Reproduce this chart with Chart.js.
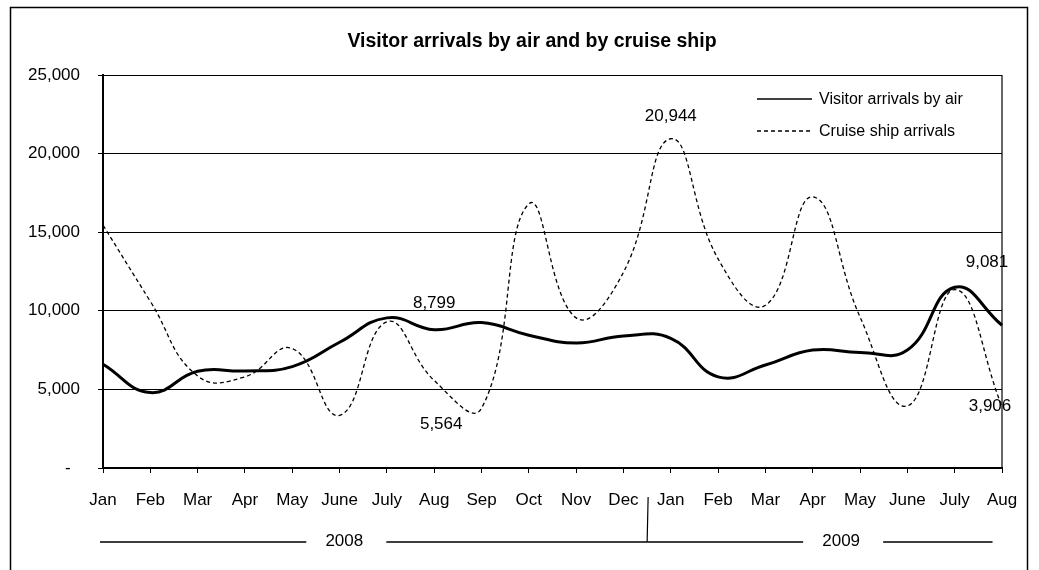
<!DOCTYPE html>
<html>
<head>
<meta charset="utf-8">
<script src="https://cdn.jsdelivr.net/npm/chart.js@4.4.0/dist/chart.umd.min.js"></script>
<style>
    html, body { margin: 0; padding: 0; background: #fff; }
</style>
</head>
<body>
<canvas id="lineChart" width="1039" height="570"></canvas>
<script>
Chart.defaults.font.family = "'Liberation Sans', Arial, sans-serif";
Chart.defaults.color = "#000";

const titleText = "Visitor arrivals by air and by cruise ship";
const months = ["Jan", "Feb", "Mar", "Apr", "May", "June", "July", "Aug", "Sep", "Oct", "Nov", "Dec",
                "Jan", "Feb", "Mar", "Apr", "May", "June", "July", "Aug"];
const years = ["2008", "2009"];
const yearFirstIndex = [0, 12];
const airArrivals = [6600, 4800, 6150, 6170, 6450, 8000, 9550, 8799, 9250, 8450, 7950, 8400,
                     8250, 5800, 6550, 7500, 7350, 7500, 11500, 9081];
const cruiseArrivals = [15450, 10600, 5850, 5800, 7600, 3350, 9300, 5564, 3800, 16800, 9550, 12450,
                        20944, 13300, 10350, 17250, 9600, 3950, 11350, 3906];
const yTicks = [0, 5000, 10000, 15000, 20000, 25000];

// which points carry a value label, and where the label sits relative to the point
const labelled = [
    {series: 1, index: 12, dx: 0, dy: -22},
    {series: 0, index: 7, dx: 0, dy: -26},
    {series: 1, index: 7, dx: 7, dy: 44},
    {series: 0, index: 19, dx: -15, dy: -63},
    {series: 1, index: 19, dx: -12, dy: 0}
];

const fmt = v => v.toLocaleString("en-US");

const decorations = {
    id: "decorations",
    beforeDraw(chart){
        const ctx = chart.ctx;
        ctx.save();
        ctx.fillStyle = "#fff";
        ctx.fillRect(0, 0, chart.width, chart.height);
        ctx.restore();
    },
    afterDraw(chart){
        const ctx = chart.ctx;
        const area = chart.chartArea;
        const x = chart.scales.x;
        ctx.save();
        ctx.strokeStyle = "#000";
        ctx.fillStyle = "#000";

        // outer frame (runs off the bottom)
        ctx.lineWidth = 1.5;
        ctx.strokeRect(10.5, 7.5, chart.width - 22, chart.height + 20);

        // right edge of plot
        ctx.lineWidth = 1.2;
        ctx.beginPath();
        ctx.moveTo(area.right, area.top);
        ctx.lineTo(area.right, area.bottom);
        ctx.stroke();

        // title
        ctx.font = "bold 19.5px 'Liberation Sans', Arial";
        ctx.textAlign = "center";
        ctx.textBaseline = "middle";
        ctx.fillText(titleText, 532, 42);

        // legend inside plot, top right
        ctx.font = "16px 'Liberation Sans', Arial";
        ctx.textAlign = "left";
        chart.data.datasets.forEach((ds, i) => {
            const ly = area.top + 24 + i * 32;
            ctx.lineWidth = 1.4;
            ctx.setLineDash(ds.borderDash || []);
            ctx.beginPath();
            ctx.moveTo(area.right - 245, ly);
            ctx.lineTo(area.right - 190, ly);
            ctx.stroke();
            ctx.setLineDash([]);
            ctx.fillText(ds.label, area.right - 183, ly + 1);
        });

        // value labels
        ctx.font = "17px 'Liberation Sans', Arial";
        ctx.textAlign = "center";
        labelled.forEach(l => {
            const pt = chart.getDatasetMeta(l.series).data[l.index];
            const v = chart.data.datasets[l.series].data[l.index];
            ctx.fillText(fmt(v), pt.x + l.dx, pt.y + l.dy);
        });

        // second level of category axis: years
        const lvlY = area.bottom + 74;
        const yearLabelAt = [5.1, 15.6];
        ctx.lineWidth = 1.5;
        years.forEach((yr, g) => {
            const first = yearFirstIndex[g];
            const last = g < years.length - 1 ? yearFirstIndex[g + 1] - 1 : months.length - 1;
            const x0 = g === 0 ? area.left - 3 : x.getPixelForValue(first - 0.5);
            const x1 = g === years.length - 1 ? x.getPixelForValue(last - 0.2) : x.getPixelForValue(last + 0.5);
            const cx = x.getPixelForValue(yearLabelAt[g]);
            ctx.beginPath();
            ctx.moveTo(x0, lvlY);
            ctx.lineTo(cx - 38, lvlY);
            ctx.moveTo(cx + 42, lvlY);
            ctx.lineTo(x1, lvlY);
            ctx.stroke();
            ctx.fillText(yr, cx, lvlY - 1);
            if(g > 0){
                ctx.lineWidth = 1.2;
                ctx.beginPath();
                ctx.moveTo(x0 + 1, area.bottom + 29);
                ctx.lineTo(x0, lvlY);
                ctx.stroke();
                ctx.lineWidth = 1.5;
            }
        });
        ctx.restore();
    }
};

new Chart(document.getElementById("lineChart"), {
    type: "line",
    data: {
        labels: months,
        datasets: [
            {
                label: "Visitor arrivals by air",
                data: airArrivals,
                borderColor: "#000",
                borderWidth: 3,
                pointRadius: 0,
                tension: 0.45,
                fill: false
            },
            {
                label: "Cruise ship arrivals",
                data: cruiseArrivals,
                borderColor: "#000",
                borderWidth: 1.3,
                borderDash: [4, 3],
                pointRadius: 0,
                tension: 0.45,
                fill: false
            }
        ]
    },
    options: {
        responsive: false,
        animation: false,
        layout: {
            padding: {left: 12, right: 37, top: 75, bottom: 42}
        },
        scales: {
            x: {
                grid: {
                    drawOnChartArea: false,
                    drawTicks: true,
                    tickLength: 5,
                    color: "#000",
                    lineWidth: 1
                },
                border: {display: true, color: "#000", width: 2},
                ticks: {
                    autoSkip: false,
                    maxRotation: 0,
                    padding: 17,
                    font: {size: 17}
                },
                afterFit: s => { s.height = 60; }
            },
            y: {
                min: 0,
                max: 25000,
                afterBuildTicks: s => { s.ticks = yTicks.map(v => ({value: v})); },
                grid: {color: "#000", lineWidth: 1, tickLength: 5},
                border: {display: true, color: "#000", width: 2},
                ticks: {
                    padding: 18,
                    font: {size: 17},
                    callback: v => v === 0 ? "-  " : fmt(v)
                },
                afterFit: s => { s.width = 91; }
            }
        },
        plugins: {
            legend: {display: false},
            title: {display: false},
            tooltip: {enabled: false}
        }
    },
    plugins: [decorations]
});
</script>
</body>
</html>
